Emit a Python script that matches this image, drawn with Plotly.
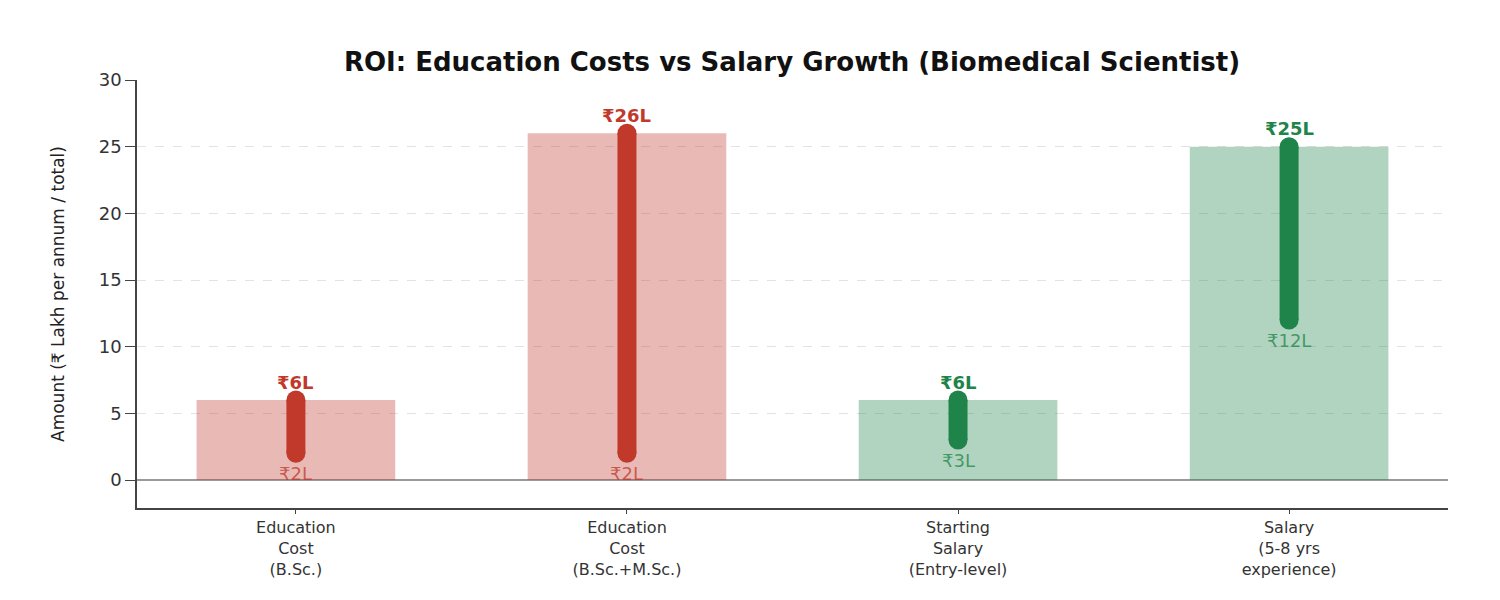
"""ROI chart: education costs vs salary growth for a biomedical scientist."""

import plotly.graph_objects as go

categories = [
    "Education<br>Cost<br>(B.Sc.)",
    "Education<br>Cost<br>(B.Sc.+M.Sc.)",
    "Starting<br>Salary<br>(Entry-level)",
    "Salary<br>(5-8 yrs<br>experience)",
]
low_values = [2, 2, 3, 12]
high_values = [6, 26, 6, 25]
kinds = ["cost", "cost", "salary", "salary"]

LINE_COLORS = {"cost": "#c0392b", "salary": "#1e8449"}
BAR_COLORS = {"cost": "rgba(192,57,43,0.35)", "salary": "rgba(30,132,73,0.35)"}
LOW_LABEL_COLORS = {"cost": "rgba(192,57,43,0.75)", "salary": "rgba(30,132,73,0.75)"}

FONT = "DejaVu Sans"

fig = go.Figure()

fig.add_bar(
    x=list(range(len(categories))),
    y=high_values,
    width=0.6,
    marker={"color": [BAR_COLORS[k] for k in kinds], "line": {"width": 0}},
    hoverinfo="skip",
    showlegend=False,
)

for i, (lo, hi, kind) in enumerate(zip(low_values, high_values, kinds)):
    color = LINE_COLORS[kind]
    fig.add_scatter(
        x=[i, i],
        y=[lo, hi],
        mode="lines+markers",
        line={"color": color, "width": 19},
        marker={"color": color, "size": 19, "line": {"width": 0}},
        hoverinfo="skip",
        showlegend=False,
    )
    fig.add_annotation(
        x=i,
        y=hi,
        text=f"<b>₹{hi}L</b>",
        showarrow=False,
        yshift=18,
        font={"family": FONT, "size": 18, "color": color},
    )
    fig.add_annotation(
        x=i,
        y=lo,
        text=f"₹{lo}L",
        showarrow=False,
        yshift=-20,
        font={"family": FONT, "size": 18, "color": LOW_LABEL_COLORS[kind]},
    )

fig.update_layout(
    width=1500,
    height=600,
    margin={"l": 129, "r": 60, "t": 72, "b": 100},
    paper_bgcolor="white",
    plot_bgcolor="white",
    title={
        "text": "<b>ROI: Education Costs vs Salary Growth (Biomedical Scientist)</b>",
        "x": 0.5227,
        "xanchor": "center",
        "y": 0.91,
        "yanchor": "middle",
        "font": {"family": FONT, "size": 26, "color": "#111"},
    },
    xaxis={
        "range": [-0.48, 3.48],
        "tickvals": list(range(len(categories))),
        "ticktext": categories,
        "ticks": "outside",
        "ticklen": 4,
        "tickcolor": "#444",
        "showline": True,
        "linecolor": "#444",
        "linewidth": 1.5,
        "showgrid": False,
        "zeroline": False,
        "tickfont": {"family": FONT, "size": 16, "color": "#333"},
    },
    yaxis={
        "range": [-2.1, 30],
        "tickvals": [0, 5, 10, 15, 20, 25, 30],
        "ticks": "outside",
        "ticklen": 10,
        "tickcolor": "#444",
        "showline": True,
        "linecolor": "#444",
        "linewidth": 1.5,
        "showgrid": True,
        "gridcolor": "#e3e3e3",
        "griddash": "dash",
        "gridwidth": 1,
        "zeroline": True,
        "zerolinecolor": "#999",
        "zerolinewidth": 1.5,
        "tickfont": {"family": FONT, "size": 18, "color": "#333"},
        "title": {
            "text": "Amount (₹ Lakh per annum / total)",
            "font": {"family": FONT, "size": 17, "color": "#222"},
            "standoff": 30,
        },
    },
)

fig.write_html("out.html")
